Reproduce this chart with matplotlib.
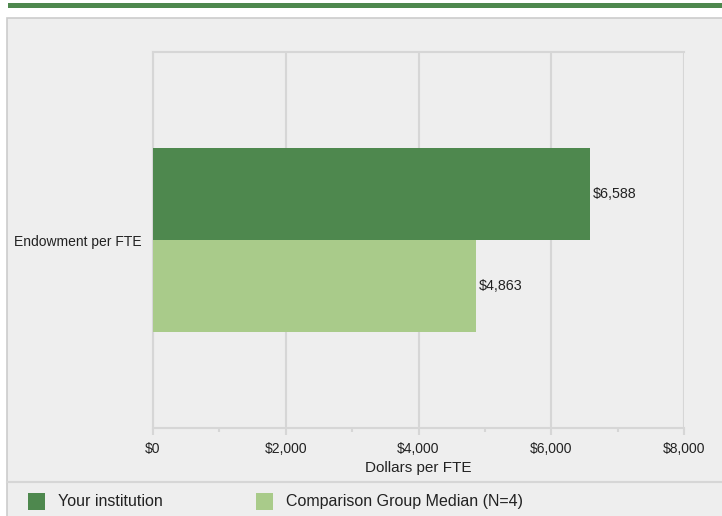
import matplotlib.pyplot as plt
from matplotlib.patches import Rectangle

plt.rcParams['font.family'] = ['Liberation Sans', 'DejaVu Sans']

categories = ['Endowment per FTE']
series_names = ['Your institution', 'Comparison Group Median (N=4)']
your_values = [6588]
median_values = [4863]
xticks = [0, 2000, 4000, 6000, 8000]
xtick_labels = ['$0', '$2,000', '$4,000', '$6,000', '$8,000']

dark_green = '#4e884e'
light_green = '#a9cb8a'
panel_bg = '#eeeeee'
grid_col = '#d6d6d6'

W, H = 722, 516
fig = plt.figure(figsize=(W / 100, H / 100), dpi=100)
fig.patch.set_facecolor('white')

# background layer in pixel coordinates (y down)
bg = fig.add_axes([0, 0, 1, 1], zorder=-1)
bg.set_xlim(0, W)
bg.set_ylim(H, 0)
bg.axis('off')
bg.add_patch(Rectangle((8, 3), W - 8, 5, facecolor=dark_green, edgecolor='none'))
bg.add_patch(Rectangle((7, 18), W + 5, H, facecolor=panel_bg,
                       edgecolor='#cccccc', linewidth=1.2))
bg.plot([7, W], [482, 482], color=grid_col, linewidth=1.5)

# legend
for x0, col, name in [(28, dark_green, series_names[0]), (256, light_green, series_names[1])]:
    bg.add_patch(Rectangle((x0, 493), 17, 17, facecolor=col, edgecolor='none'))
    bg.text(x0 + 30, 501.5, name, fontsize=11.5, va='center', ha='left', color='#222222')

ax = fig.add_axes([153 / W, 1 - 428 / H, (684 - 153) / W, (428 - 52) / H], zorder=2)
ax.set_facecolor(panel_bg)

h = 0.245
ypos = list(range(len(categories)))
for i, y in enumerate(ypos):
    ax.barh(y - h / 2, your_values[i], height=h, color=dark_green, zorder=3)
    ax.barh(y + h / 2, median_values[i], height=h, color=light_green, zorder=3)
    ax.text(your_values[i] + 40, y - h / 2, '${:,}'.format(your_values[i]),
            va='center', ha='left', fontsize=10.3, color='#222222')
    ax.text(median_values[i] + 40, y + h / 2, '${:,}'.format(median_values[i]),
            va='center', ha='left', fontsize=10.3, color='#222222')

ax.set_ylim(0.5, -0.5)
ax.set_xlim(0, 8000)
ax.set_xticks(xticks)
ax.set_xticklabels(xtick_labels, fontsize=10, color='#222222')
ax.set_xticks([1000, 3000, 5000, 7000], minor=True)
ax.set_yticks(ypos)
ax.set_yticklabels(categories, fontsize=10, color='#222222')
ax.tick_params(axis='y', length=0, pad=8)
ax.tick_params(axis='x', which='major', length=5, width=1.5, color=grid_col, pad=5)
ax.tick_params(axis='x', which='minor', length=3, width=1.5, color=grid_col)
ax.grid(axis='x', color=grid_col, linewidth=1.5, zorder=0)
ax.set_axisbelow(True)
for side in ['top', 'left', 'bottom']:
    ax.spines[side].set_color(grid_col)
    ax.spines[side].set_linewidth(1.5)
ax.spines['right'].set_visible(False)
ax.set_xlabel('Dollars per FTE', fontsize=11, color='#222222', labelpad=4)

fig.savefig('out.png', dpi=100, facecolor=fig.get_facecolor())
